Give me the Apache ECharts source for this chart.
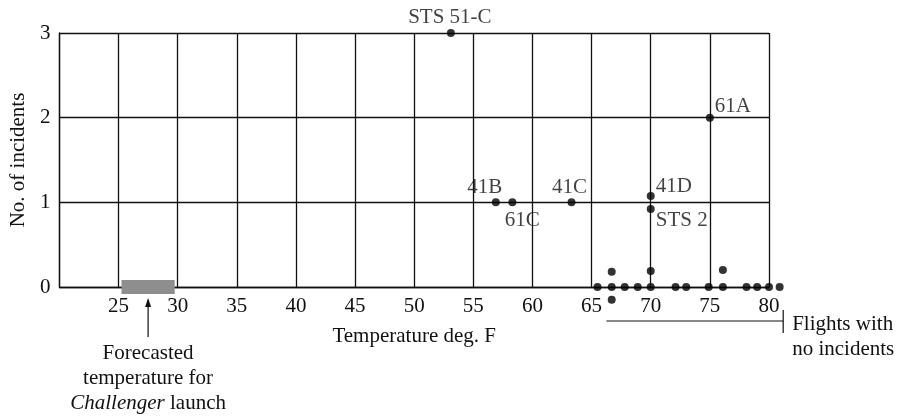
<!DOCTYPE html>
<html>
<head>
<meta charset="utf-8">
<script src="https://cdn.jsdelivr.net/npm/echarts@6/dist/echarts.min.js"></script>
<style>
html,body{margin:0;padding:0;background:#fff;}
#chart{width:904px;height:417px;}
</style>
</head>
<body>
<div id="chart"></div>
<script>
// ---- data ----
const xTickLabels = [25, 30, 35, 40, 45, 50, 55, 60, 65, 70, 75, 80];
const yTickLabels = [0, 1, 2, 3];
const incidentNames = ['STS 51-C', '61A', '41B', '61C', '41C', '41D', 'STS 2'];
const incidentTemps = [53.1, 75, 56.9, 58.3, 63.3, 70, 70];
const incidentCounts = [3, 2, 1, 1, 1, 1.075, 0.92];
const noIncidentTemps = [65.5, 66.7, 66.7, 66.7, 67.8, 68.9, 70, 70, 72.1, 73, 74.9, 76.1, 76.1, 78.1, 79, 80, 80.9];
const noIncidentCounts = [0, 0.18, 0, -0.15, 0, 0, 0, 0.19, 0, 0, 0, 0, 0.2, 0, 0, 0, 0];
const forecastRange = [25.25, 29.75];
const noIncidentBracket = [66.25, 81.2];

// ---- styling ----
const FONT = "'Liberation Serif', 'Times New Roman', serif";
const INK = '#111';
const FS = 21;
const labelOffsets = {
  'STS 51-C': [-1, -16],
  '61A': [23, -11],
  '41B': [-11, -15],
  '61C': [10, 18],
  '41C': [-2, -15],
  '41D': [23, -9],
  'STS 2': [31, 11]
};

const incidentData = incidentNames.map((n, i) => ({
  name: n,
  value: [incidentTemps[i], incidentCounts[i]],
  label: { show: true, position: 'inside', offset: labelOffsets[n], formatter: n }
}));
const noIncidentData = noIncidentTemps.map((t, i) => [t, noIncidentCounts[i]]);

const chart = echarts.init(document.getElementById('chart'));
chart.setOption({
  animation: false,
  backgroundColor: '#fff',
  textStyle: { fontFamily: FONT, color: INK },
  grid: { left: 49, right: 135, top: 33, bottom: 130, containLabel: false },
  xAxis: {
    type: 'value', min: 20, max: 80, interval: 5,
    name: 'Temperature deg. F', nameLocation: 'middle', nameGap: 39,
    nameTextStyle: { fontFamily: FONT, fontSize: FS, color: INK },
    axisLine: { show: true, onZero: false, lineStyle: { color: INK, width: 1.3 } },
    axisTick: { show: false },
    axisLabel: {
      fontFamily: FONT, fontSize: FS, color: INK, margin: 9,
      formatter: v => xTickLabels.includes(v) ? String(v) : ''
    },
    splitLine: { show: true, lineStyle: { color: INK, width: 1.3 } }
  },
  yAxis: {
    type: 'value', min: 0, max: 3, interval: 1,
    name: 'No. of incidents', nameLocation: 'middle', nameGap: 26,
    nameTextStyle: { fontFamily: FONT, fontSize: FS, color: INK },
    axisLine: { show: true, lineStyle: { color: INK, width: 1.3 } },
    axisTick: { show: false },
    axisLabel: {
      fontFamily: FONT, fontSize: FS, color: INK, margin: 9,
      formatter: v => yTickLabels.includes(v) ? String(v) : ''
    },
    splitLine: { show: true, lineStyle: { color: INK, width: 1.3 } }
  },
  series: [
    {
      type: 'custom',
      clip: false,
      silent: true,
      z: 3,
      data: [forecastRange],
      renderItem: function (params, api) {
        const p0 = api.coord([api.value(0), 0]);
        const p1 = api.coord([api.value(1), 0]);
        const mx = (p0[0] + p1[0]) / 2;
        return {
          type: 'group',
          children: [
            { type: 'rect', shape: { x: p0[0], y: p0[1] - 7, width: p1[0] - p0[0], height: 14 },
              style: { fill: '#8e8e8e' } },
            { type: 'line', shape: { x1: mx, y1: p0[1] + 13, x2: mx, y2: p0[1] + 50 },
              style: { stroke: INK, lineWidth: 1.2 } },
            { type: 'polygon', shape: { points: [[mx, p0[1] + 11], [mx - 3, p0[1] + 20], [mx + 3, p0[1] + 20]] },
              style: { fill: INK } },
            { type: 'text', x: mx, y: p0[1] + 54,
              style: {
                text: 'Forecasted\ntemperature for\n{i|Challenger} launch',
                rich: { i: { fontStyle: 'italic', fontFamily: FONT, fontSize: FS, fill: INK, lineHeight: 25 } },
                fontFamily: FONT, fontSize: FS, fill: INK, lineHeight: 25,
                align: 'center', verticalAlign: 'top'
              } }
          ]
        };
      }
    },
    {
      type: 'custom',
      clip: false,
      silent: true,
      z: 3,
      data: [noIncidentBracket],
      renderItem: function (params, api) {
        const p0 = api.coord([api.value(0), 0]);
        const p1 = api.coord([api.value(1), 0]);
        return {
          type: 'group',
          children: [
            { type: 'line', shape: { x1: p0[0], y1: p0[1] + 34, x2: p1[0], y2: p1[1] + 34 },
              style: { stroke: INK, lineWidth: 1.2 } },
            { type: 'line', shape: { x1: p1[0], y1: p1[1] + 23, x2: p1[0], y2: p1[1] + 46 },
              style: { stroke: INK, lineWidth: 1.2 } },
            { type: 'text', x: p1[0] + 9, y: p1[1] + 25,
              style: {
                text: 'Flights with\nno incidents',
                fontFamily: FONT, fontSize: FS, fill: INK, lineHeight: 25,
                align: 'left', verticalAlign: 'top'
              } }
          ]
        };
      }
    },
    {
      type: 'scatter',
      clip: false,
      symbol: 'circle',
      symbolSize: 8,
      z: 5,
      itemStyle: { color: '#000' },
      label: { fontFamily: FONT, fontSize: FS, color: INK },
      data: incidentData
    },
    {
      type: 'scatter',
      clip: false,
      symbol: 'circle',
      symbolSize: 8,
      z: 5,
      itemStyle: { color: '#000' },
      data: noIncidentData
    }
  ]
});
</script>
</body>
</html>
